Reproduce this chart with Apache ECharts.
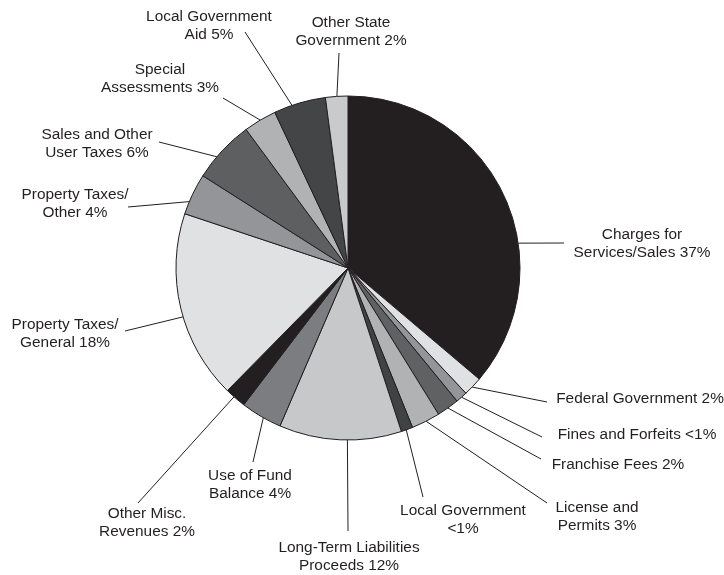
<!DOCTYPE html>
<html>
<head>
<meta charset="utf-8">
<script src="https://cdn.jsdelivr.net/npm/echarts@6/dist/echarts.min.js"></script>
<style>
html,body{margin:0;padding:0;background:#fff;}
#chart{width:724px;height:575px;}
</style>
</head>
<body>
<div id="chart"></div>
<script>
// Data
var categories = ['Charges for Services/Sales', 'Federal Government', 'Fines and Forfeits', 'Franchise Fees',
  'License and Permits', 'Local Government', 'Long-Term Liabilities Proceeds', 'Use of Fund Balance',
  'Other Misc. Revenues', 'Property Taxes/General', 'Property Taxes/Other', 'Sales and Other User Taxes',
  'Special Assessments', 'Local Government Aid', 'Other State Government'];
var values = [36.2, 1.8, 1.1, 2.1, 2.7, 1.1, 11.5, 3.9, 2.0, 17.75, 3.9, 5.9, 3.1, 4.9, 2.1];
var labels = ['Charges for\nServices/Sales 37%', 'Federal Government 2%', 'Fines and Forfeits <1%', 'Franchise Fees 2%',
  'License and\nPermits 3%', 'Local Government\n<1%', 'Long-Term Liabilities\nProceeds 12%', 'Use of Fund\nBalance 4%',
  'Other Misc.\nRevenues 2%', 'Property Taxes/\nGeneral 18%', 'Property Taxes/\nOther 4%', 'Sales and Other\nUser Taxes 6%',
  'Special\nAssessments 3%', 'Local Government\nAid 5%', 'Other State\nGovernment 2%'];

// Styles / layout
var colors = ['#231f20', '#e0e1e2', '#939598', '#606163', '#b1b2b4', '#414244', '#c7c8ca', '#7c7d80',
  '#231f20', '#e0e1e3', '#939598', '#5e5f61', '#b1b2b4', '#434547', '#c9cacc'];
var CX = 348, CY = 268, R = 172;
var labelPos = [[642, 244], [640, 399], [637, 435], [618, 465], [597, 517], [463, 520], [349, 557], [250, 485],
  [147, 523], [65, 334], [75, 204], [97, 144], [160, 79], [209, 26], [351, 32]];
var lineStartAngle = [81.7, 133.8, 138.7, 144.5, 153, 160.2, 180.2, 209.5, 221.5, 253.5, 292.7, 310.3, 329.3, 341, 356.3];
var lineEnd = [[564, 243], [547, 402], [542, 437], [541, 459], [547, 503], [423, 497], [348, 531], [253, 462],
  [138, 503], [125, 331], [128, 207], [159, 142], [223, 98], [245, 32], [339, 53]];

var chart = echarts.init(document.getElementById('chart'), null, {renderer: 'canvas'});
var data = categories.map(function (c, i) {
  return {name: c, value: values[i], itemStyle: {color: colors[i]}};
});
chart.setOption({
  animation: false,
  backgroundColor: '#ffffff',
  series: [{
    type: 'pie',
    center: [CX, CY],
    radius: R,
    startAngle: 90,
    clockwise: true,
    avoidLabelOverlap: false,
    data: data,
    itemStyle: {borderColor: '#231f20', borderWidth: 1},
    label: {
      show: true,
      position: 'outside',
      formatter: function (p) { return labels[p.dataIndex]; },
      fontFamily: '"Liberation Sans", Arial, Helvetica, sans-serif',
      fontSize: 15.4,
      lineHeight: 18,
      color: '#231f20',
      align: 'center'
    },
    labelLine: {show: true, length: 10, length2: 10, lineStyle: {color: '#231f20', width: 1}},
    emphasis: {disabled: true},
    labelLayout: function (params) {
      var i = params.dataIndex;
      var a = lineStartAngle[i] * Math.PI / 180;
      var sx = CX + R * Math.sin(a), sy = CY - R * Math.cos(a);
      var e = lineEnd[i];
      return {
        x: labelPos[i][0],
        y: labelPos[i][1],
        align: 'center',
        verticalAlign: 'middle',
        labelLinePoints: [[sx, sy], [e[0], e[1]], [e[0], e[1]]]
      };
    }
  }]
});
</script>
</body>
</html>
